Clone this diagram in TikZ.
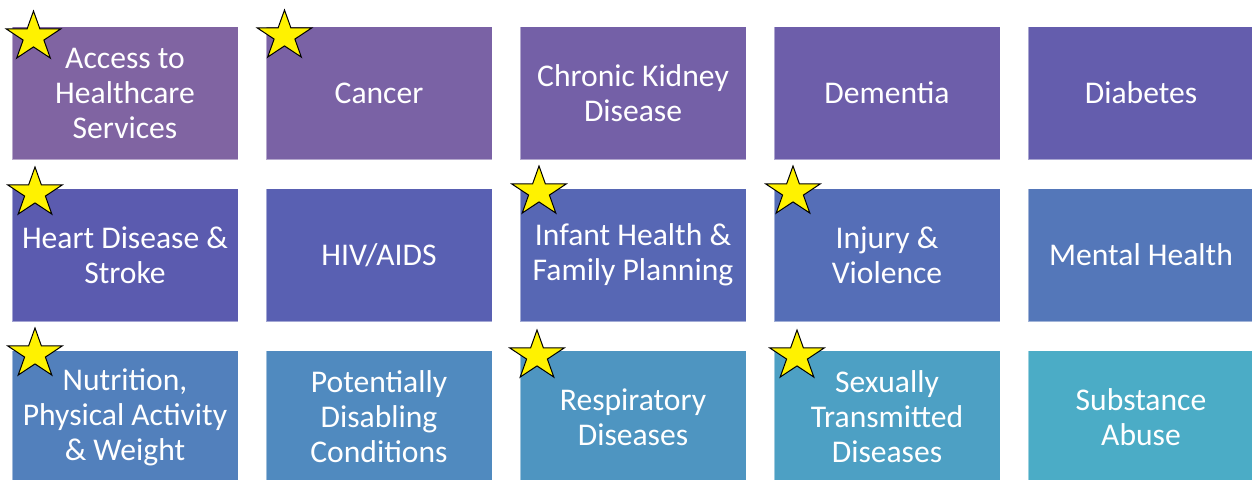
\documentclass[tikz,border=0pt]{standalone}
\usepackage{fontspec}
\setmainfont{Carlito}
\usetikzlibrary{shapes.geometric}
\definecolor{c0}{HTML}{8064A2}
\definecolor{c1}{HTML}{7A62A5}
\definecolor{c2}{HTML}{7460A7}
\definecolor{c3}{HTML}{6D5EAA}
\definecolor{c4}{HTML}{645DAD}
\definecolor{c5}{HTML}{5B5BAF}
\definecolor{c6}{HTML}{5960B2}
\definecolor{c7}{HTML}{5767B4}
\definecolor{c8}{HTML}{556EB7}
\definecolor{c9}{HTML}{5477B9}
\definecolor{c10}{HTML}{5280BC}
\definecolor{c11}{HTML}{508ABF}
\definecolor{c12}{HTML}{4E95C1}
\definecolor{c13}{HTML}{4DA0C4}
\definecolor{c14}{HTML}{4BACC6}
\begin{document}
\begin{tikzpicture}[x=1pt,y=-1pt,
  topic/.style={rectangle, fill=#1, draw=white, draw opacity=0.45, line width=0.8pt,
    minimum width=226pt, minimum height=133pt, inner sep=0pt, text=white,
    font=\fontsize{31.6}{35}\selectfont, align=center},
  goldstar/.style={star, star points=5, star point ratio=2.618, minimum size=52pt,
    inner sep=0pt, fill=yellow, draw=black, line width=1pt, xscale=1.1}]
\useasboundingbox (0,0) rectangle (1252,479);
\clip (0,0) rectangle (1252,479);
\fill[white] (0,0) rectangle (1252,479);
% row 1
\node[topic=c0] (b1) at (125,93) {Access to\\Healthcare\\Services};
\node[topic=c1] (b2) at (379,93) {Cancer};
\node[topic=c2] (b3) at (633,93) {Chronic Kidney\\Disease};
\node[topic=c3] (b4) at (887,93) {Dementia};
\node[topic=c4] (b5) at (1141,93) {Diabetes};
% row 2
\node[topic=c5] (b6) at (125,255) {Heart Disease \&\\Stroke};
\node[topic=c6] (b7) at (379,255) {HIV/AIDS};
\node[topic=c7] (b8) at (633,255) {Infant Health \&\\Family Planning};
\node[topic=c8] (b9) at (887,255) {Injury \&\\Violence};
\node[topic=c9] (b10) at (1141,255) {Mental Health};
% row 3
\node[topic=c10] (b11) at (125,417) {Nutrition,\\Physical Activity\\\& Weight};
\node[topic=c11] (b12) at (379,417) {Potentially\\Disabling\\Conditions};
\node[topic=c12] (b13) at (633,417) {Respiratory\\Diseases};
\node[topic=c13] (b14) at (887,417) {Sexually\\Transmitted\\Diseases};
\node[topic=c14] (b15) at (1141,417) {Substance\\Abuse};
% stars
\node[goldstar] (s1) at (33.5,37) {};
\node[goldstar] (s2) at (284.5,36) {};
\node[goldstar] (s3) at (35,193) {};
\node[goldstar] (s4) at (539,192) {};
\node[goldstar] (s5) at (793,192) {};
\node[goldstar] (s6) at (35,354) {};
\node[goldstar] (s7) at (537,356) {};
\node[goldstar] (s8) at (797,356) {};
\end{tikzpicture}
\end{document}
